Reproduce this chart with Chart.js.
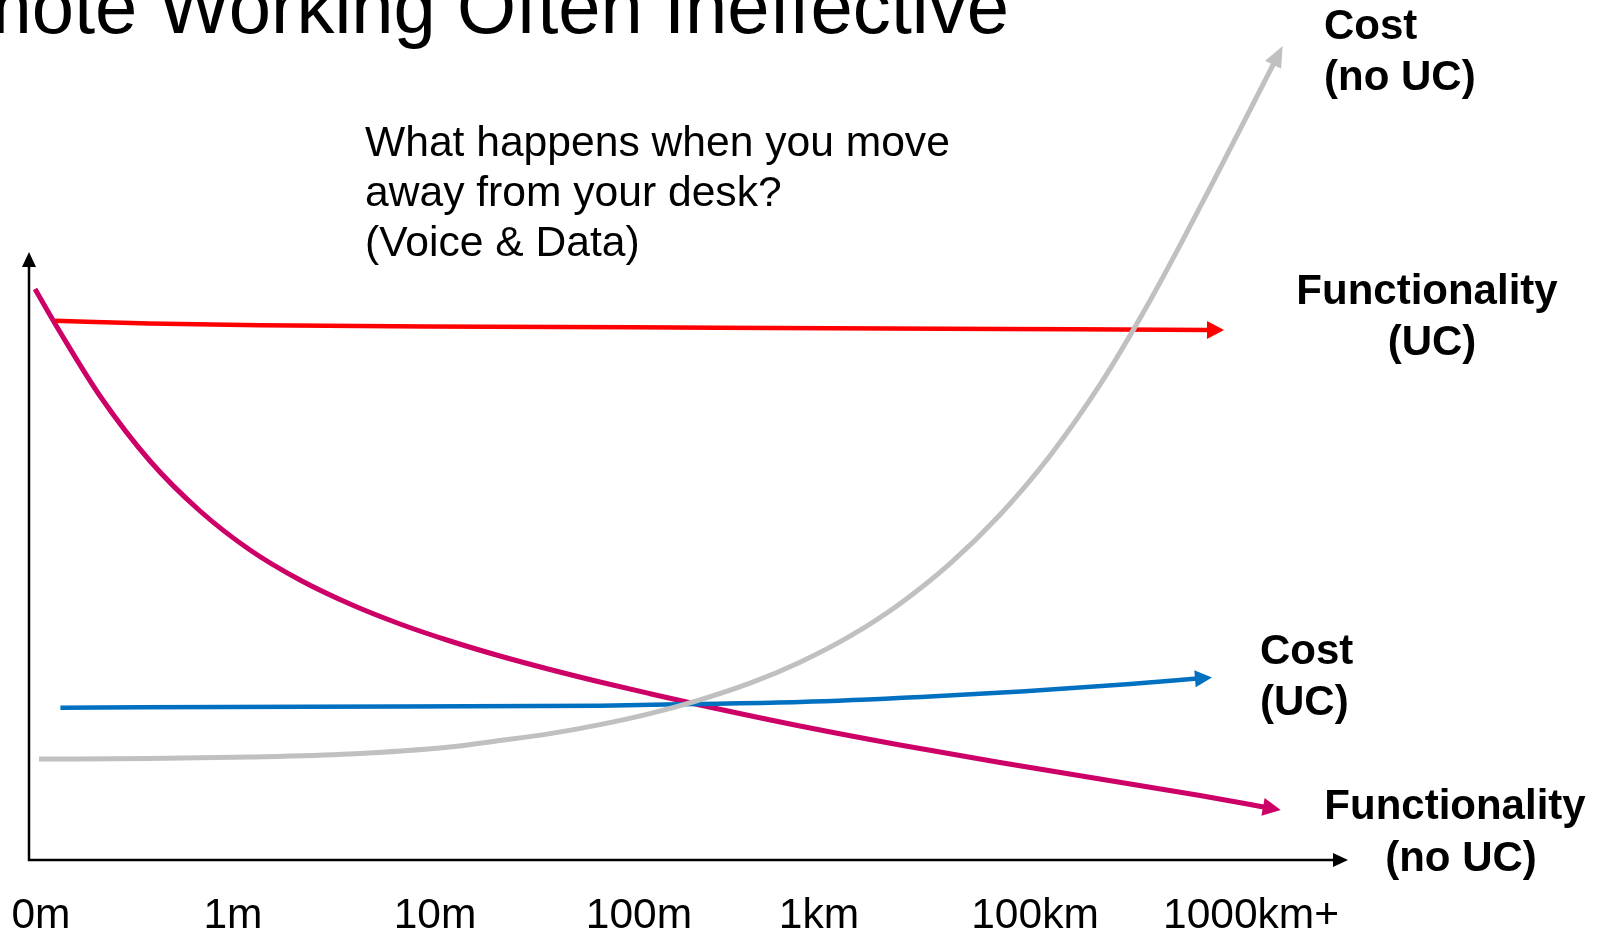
<!DOCTYPE html>
<html>
<head>
<meta charset="utf-8">
<title>Remote Working Often Ineffective</title>
<script src="https://cdn.jsdelivr.net/npm/chart.js@4.4.1/dist/chart.umd.min.js"></script>
<style>
  html, body { margin: 0; padding: 0; background: #ffffff; overflow: hidden; }
  canvas { display: block; }
</style>
</head>
<body>
<canvas id="chart" width="1606" height="932"></canvas>
<script>
// Distance from the desk (x axis) and where each distance label sits on it
const distanceLabels = ['0m', '1m', '10m', '100m', '1km', '100km', '1000km+'];
const distanceTicks  = [0.06, 1.02, 2.03, 3.05, 3.95, 5.03, 6.11];

// Each series: [distance, level] pairs, last pair is where the arrow head starts
const functionalityUC = [
  [0.13, 53.93], [0.6, 53.66], [1.155, 53.47], [2.3, 53.33], [3.44, 53.23], [4.86, 53.1], [5.9, 53.0]
];
const functionalityNoUC = [
  [0.03, 57.1], [0.155, 52.8], [0.355, 46.4], [0.605, 39.9], [0.855, 34.9], [1.105, 31.0],
  [1.355, 28.0], [1.605, 25.6], [1.855, 23.6], [2.105, 21.9], [2.355, 20.4], [2.605, 19.05],
  [2.855, 17.8], [3.105, 16.63], [3.355, 15.5], [3.855, 13.4], [4.355, 11.5], [4.855, 9.75],
  [5.355, 8.1], [5.855, 6.45], [6.18, 5.28]
];
const costUC = [
  [0.157, 15.23], [1.39, 15.33], [2.855, 15.43], [3.33, 15.6], [3.855, 15.8],
  [4.46, 16.3], [4.98, 16.87], [5.49, 17.58], [5.84, 18.14]
];
const costNoUC = [
  [0.05, 10.1], [0.605, 10.15], [1.105, 10.3], [1.605, 10.6], [2.105, 11.3], [2.355, 11.94],
  [2.605, 12.64], [2.855, 13.54], [3.105, 14.64], [3.33, 15.86], [3.605, 17.68], [3.855, 19.78],
  [4.105, 22.38], [4.355, 25.63], [4.605, 29.63], [4.855, 34.53], [5.105, 40.43], [5.355, 47.53],
  [5.605, 55.93], [5.77, 62.03], [5.94, 68.56], [6.105, 75.0], [6.225, 79.7]
];

// Axis extents (in axis units) reached by the arrow tips of the two axes
const xAxisEnd = 6.595;
const yAxisEnd = 60.8;

const FONT = "'Liberation Sans', Arial, Helvetica, sans-serif";

const seriesStyles = [
  { name: 'Cost (no UC)',          data: costNoUC,          color: '#c0c0c0', width: 5, head: [21, 9] },
  { name: 'Functionality (UC)',    data: functionalityUC,   color: '#ff0000', width: 4.5, head: [17, 9] },
  { name: 'Cost (UC)',             data: costUC,            color: '#0070c0', width: 4.5, head: [17, 8.5] },
  { name: 'Functionality (no UC)', data: functionalityNoUC, color: '#cc0066', width: 5, head: [18, 9] }
];

function toPoints(pairs) {
  return pairs.map(([x, y]) => ({ x, y }));
}

function fillArrow(ctx, tipX, tipY, ux, uy, len, half, color) {
  const bx = tipX - ux * len, by = tipY - uy * len;
  const nx = -uy, ny = ux;
  ctx.beginPath();
  ctx.moveTo(tipX, tipY);
  ctx.lineTo(bx + nx * half, by + ny * half);
  ctx.lineTo(bx - nx * half, by - ny * half);
  ctx.closePath();
  ctx.fillStyle = color;
  ctx.fill();
}

// Black axes with arrow heads, drawn from the chart's own scales
const axesPlugin = {
  id: 'arrowAxes',
  beforeDatasetsDraw(chart) {
    const { ctx, scales: { x, y } } = chart;
    const left = x.getPixelForValue(0);
    const bottom = y.getPixelForValue(0);
    const xTip = x.getPixelForValue(xAxisEnd);
    const yTip = y.getPixelForValue(yAxisEnd);
    ctx.save();
    ctx.strokeStyle = '#000000';
    ctx.lineWidth = 2.5;
    ctx.beginPath();
    ctx.moveTo(left, bottom + 1.25);
    ctx.lineTo(left, yTip + 10);
    ctx.moveTo(left - 1.25, bottom);
    ctx.lineTo(xTip - 10, bottom);
    ctx.stroke();
    fillArrow(ctx, left, yTip, 0, -1, 15, 7, '#000000');
    fillArrow(ctx, xTip, bottom, 1, 0, 15, 7, '#000000');
    ctx.restore();
  }
};

// Arrow heads at the end of every curve, pointing along its last segment
const headsPlugin = {
  id: 'curveHeads',
  afterDatasetsDraw(chart) {
    const ctx = chart.ctx;
    ctx.save();
    chart.data.datasets.forEach((ds, i) => {
      const pts = chart.getDatasetMeta(i).data;
      const a = pts[pts.length - 2], b = pts[pts.length - 1];
      const dx = b.x - a.x, dy = b.y - a.y, d = Math.hypot(dx, dy);
      const ux = dx / d, uy = dy / d;
      const [len, half] = ds.head;
      fillArrow(ctx, b.x + ux * (len - 2), b.y + uy * (len - 2), ux, uy, len, half, ds.borderColor);
    });
    ctx.restore();
  }
};

// Slide title, question and the curve names
const textPlugin = {
  id: 'slideText',
  afterDraw(chart) {
    const ctx = chart.ctx;
    ctx.save();
    ctx.fillStyle = '#000000';
    ctx.textBaseline = 'alphabetic';

    ctx.font = `76px ${FONT}`;
    ctx.textAlign = 'right';
    ctx.fillText('Remote Working Often Ineffective', 1009, 33);

    ctx.font = `42.6px ${FONT}`;
    ctx.textAlign = 'left';
    ctx.fillText('What happens when you move', 365, 156);
    ctx.fillText('away from your desk?', 365, 206);
    ctx.fillText('(Voice & Data)', 365, 256);

    ctx.font = `bold 42px ${FONT}`;
    ctx.fillText('Cost', 1324, 39);
    ctx.fillText('(no UC)', 1324, 90);
    ctx.fillText('Cost', 1260, 664);
    ctx.fillText('(UC)', 1260, 715);

    ctx.textAlign = 'center';
    ctx.fillText('Functionality', 1427, 304);
    ctx.fillText('(UC)', 1432, 355);
    ctx.fillText('Functionality', 1455, 819);
    ctx.fillText('(no UC)', 1461, 871);
    ctx.restore();
  }
};

new Chart(document.getElementById('chart'), {
  type: 'line',
  data: {
    datasets: seriesStyles.map(s => ({
      label: s.name,
      data: toPoints(s.data),
      borderColor: s.color,
      borderWidth: s.width,
      borderCapStyle: 'butt',
      borderJoinStyle: 'round',
      cubicInterpolationMode: 'monotone',
      pointRadius: 0,
      fill: false,
      clip: false,
      head: s.head
    }))
  },
  options: {
    responsive: false,
    animation: false,
    devicePixelRatio: 1,
    layout: { padding: { left: 29, right: 266, top: 40, bottom: 0 } },
    plugins: {
      legend: { display: false },
      tooltip: { enabled: false },
      title: { display: false }
    },
    scales: {
      x: {
        type: 'linear',
        min: 0,
        max: 6.555,
        grid: { display: false, drawTicks: false },
        border: { display: false },
        afterBuildTicks: scale => { scale.ticks = distanceTicks.map(v => ({ value: v })); },
        afterFit: scale => {
          scale.height = 72;
          scale.paddingLeft = 0;
          scale.paddingRight = 0;
        },
        ticks: {
          autoSkip: false,
          maxRotation: 0,
          minRotation: 0,
          padding: 31,
          color: '#000000',
          font: { family: FONT, size: 42.5 },
          callback: (value, index) => distanceLabels[index]
        }
      },
      y: {
        type: 'linear',
        min: 0,
        max: 82,
        display: false
      }
    }
  },
  plugins: [axesPlugin, headsPlugin, textPlugin]
});
</script>
</body>
</html>
